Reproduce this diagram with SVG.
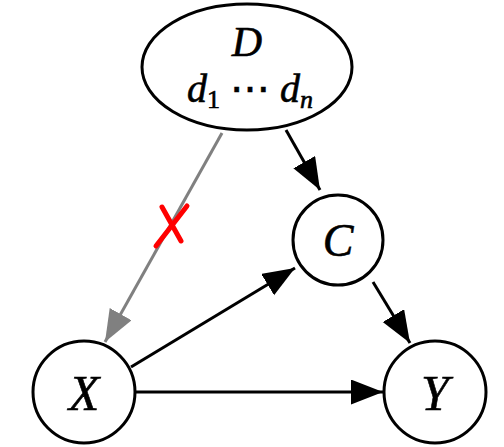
<svg xmlns="http://www.w3.org/2000/svg" width="504" height="447" viewBox="0 0 504 447">
<style>
.node{fill:#fff;stroke:#000;stroke-width:3}
.lbl{font-family:"Liberation Serif","DejaVu Serif",serif;font-style:italic;fill:#000;stroke:#000;stroke-width:0.6;text-anchor:middle}
.e{stroke:#000;stroke-width:3;fill:none}
.g{stroke:#808080;stroke-width:3;fill:none}
</style>
<defs>
<marker id="ah" markerWidth="34" markerHeight="26" refX="32" refY="12.5" orient="auto" markerUnits="userSpaceOnUse"><path d="M0,0 L32,12.5 L0,25 Z" fill="#000"/></marker>
<marker id="ahg" markerWidth="34" markerHeight="26" refX="32" refY="12.5" orient="auto" markerUnits="userSpaceOnUse"><path d="M0,0 L32,12.5 L0,25 Z" fill="#808080"/></marker>
</defs>
<g id="edges">
<line class="g" x1="222" y1="133" x2="105" y2="342" marker-end="url(#ahg)"/>
<line class="e" x1="286" y1="130" x2="320" y2="190" marker-end="url(#ah)"/>
<line class="e" x1="131" y1="367" x2="295" y2="268" marker-end="url(#ah)"/>
<line class="e" x1="373" y1="282" x2="410" y2="343" marker-end="url(#ah)"/>
<line class="e" x1="136" y1="392" x2="383" y2="392" marker-end="url(#ah)"/>
<g id="cut" stroke="#ff0000" stroke-width="5" stroke-linecap="round">
<line x1="162" y1="207" x2="181" y2="241"/>
<line x1="187" y1="206" x2="156" y2="246"/>
</g>
</g>
<g id="D">
<ellipse class="node" cx="247" cy="67" rx="105" ry="63"/>
<text class="lbl" x="247" y="56" font-size="42">D</text>
<text class="lbl" x="250" y="102" font-size="40">d<tspan font-size="26" font-style="normal" dy="6">1</tspan><tspan dy="-6" font-style="normal"> ⋯ </tspan>d<tspan font-size="26" dy="6">n</tspan></text>
</g>
<g id="C">
<circle class="node" cx="338" cy="240" r="45"/>
<text class="lbl" x="338" y="256" font-size="46">C</text>
</g>
<g id="X">
<circle class="node" cx="84" cy="392" r="51"/>
<text class="lbl" x="84" y="410" font-size="50">X</text>
</g>
<g id="Y">
<circle class="node" cx="435" cy="392" r="51"/>
<text class="lbl" x="435" y="410" font-size="50">Y</text>
</g>
</svg>
